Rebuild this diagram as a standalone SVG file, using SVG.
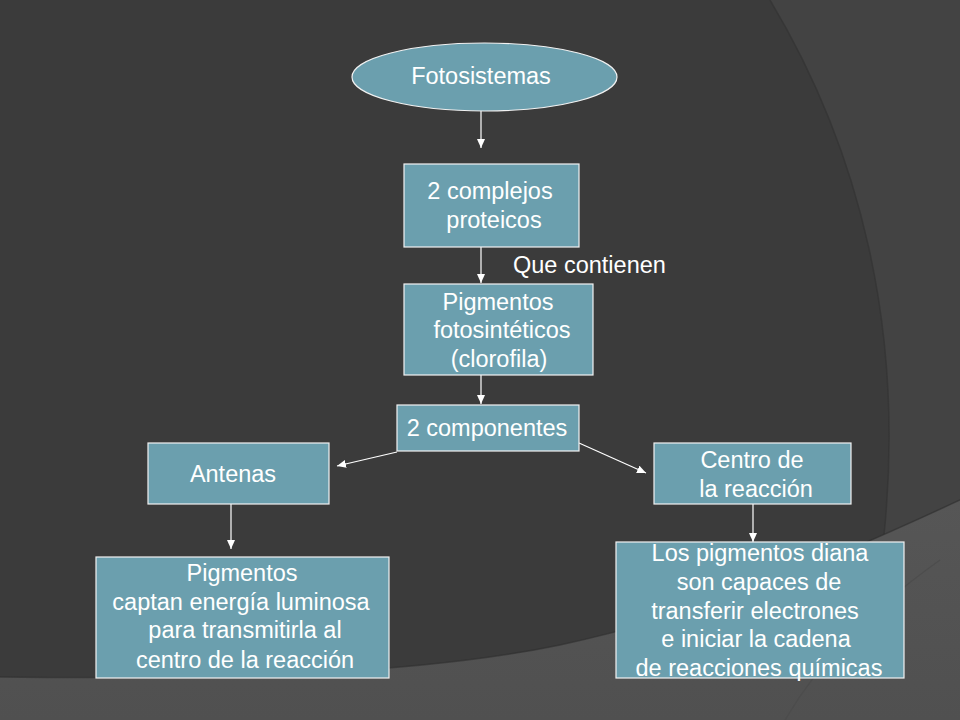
<svg xmlns="http://www.w3.org/2000/svg" width="960" height="720" viewBox="0 0 960 720">
  <defs>
    <style>
      .node { fill: #6b9fae; stroke: #f2f2f2; stroke-width: 1.2; }
      .lbl { font-family: "Liberation Sans", Arial, sans-serif; font-size: 23.5px; fill: #ffffff; text-anchor: middle; }
      .free { font-family: "Liberation Sans", Arial, sans-serif; font-size: 23.5px; fill: #ffffff; }
      .conn { stroke: #ffffff; stroke-width: 1.2; fill: none; marker-end: url(#arrow); }
    </style>
    <marker id="arrow" markerUnits="userSpaceOnUse" markerWidth="10" markerHeight="8" refX="9" refY="4" orient="auto">
      <path d="M0,0 L9,4 L0,8 Z" fill="#ffffff"/>
    </marker>
    <linearGradient id="bottomGrad" x1="0" y1="0" x2="0" y2="1">
      <stop offset="0" stop-color="#565656"/>
      <stop offset="1" stop-color="#505050"/>
    </linearGradient>
  </defs>

  <!-- background -->
  <g id="background">
    <rect x="0" y="0" width="960" height="720" fill="#3b3b3b"/>
    <path d="M770,0 L960,0 L960,500 L884,535 C905,330 860,150 770,0 Z" fill="#434343"/>
    <path d="M770,0 C860,150 905,330 884,535" fill="none" stroke="#333333" stroke-width="1.5" opacity="0.7"/>
    <path d="M0,677 C250,680 430,672 560,645 C700,615 820,565 960,500 L960,720 L0,720 Z" fill="url(#bottomGrad)"/>
    <path d="M0,677 C250,680 430,672 560,645 C700,615 820,565 960,500" fill="none" stroke="#2e2e2e" stroke-width="1.5" opacity="0.6"/>
    <path d="M785,720 C820,660 870,610 940,560" fill="none" stroke="#4a4a4a" stroke-width="1.2" opacity="0.7"/>
  </g>

  <!-- connectors -->
  <g id="connectors">
    <line class="conn" x1="481" y1="111" x2="481" y2="148"/>
    <line class="conn" x1="481" y1="247" x2="481" y2="283"/>
    <line class="conn" x1="481" y1="362" x2="481" y2="404"/>
    <line class="conn" x1="397" y1="452" x2="337" y2="466"/>
    <line class="conn" x1="579" y1="443" x2="646" y2="473"/>
    <line class="conn" x1="231" y1="504" x2="231" y2="549"/>
    <line class="conn" x1="753" y1="504" x2="753" y2="542"/>
  </g>

  <!-- nodes -->
  <g id="fotosistemas">
    <ellipse class="node" cx="484.5" cy="77" rx="132.5" ry="34"/>
    <text class="lbl" x="481" y="84">Fotosistemas</text>
  </g>

  <g id="complejos">
    <rect class="node" x="404" y="164" width="175" height="83"/>
    <text class="lbl" x="490" y="199">2 complejos</text>
    <text class="lbl" x="494" y="228">proteicos</text>
  </g>

  <g id="que-contienen">
    <text class="free" x="513" y="273">Que contienen</text>
  </g>

  <g id="pigmentos">
    <rect class="node" x="404" y="284" width="189" height="91"/>
    <text class="lbl" x="498" y="310">Pigmentos</text>
    <text class="lbl" x="502" y="338">fotosintéticos</text>
    <text class="lbl" x="499" y="367">(clorofila)</text>
  </g>

  <g id="componentes">
    <rect class="node" x="397" y="405" width="182" height="46"/>
    <text class="lbl" x="487" y="436">2 componentes</text>
  </g>

  <g id="antenas">
    <rect class="node" x="148" y="443" width="181" height="61"/>
    <text class="lbl" x="233" y="482">Antenas</text>
  </g>

  <g id="centro">
    <rect class="node" x="654" y="443" width="197" height="61"/>
    <text class="lbl" x="752" y="468">Centro de</text>
    <text class="lbl" x="756" y="497">la reacción</text>
  </g>

  <g id="pigmentos-antenas">
    <rect class="node" x="96" y="557" width="293" height="121"/>
    <text class="lbl" x="242" y="581">Pigmentos</text>
    <text class="lbl" x="241" y="610">captan energía luminosa</text>
    <text class="lbl" x="245" y="638">para transmitirla al</text>
    <text class="lbl" x="245" y="668">centro de la reacción</text>
  </g>

  <g id="pigmentos-diana">
    <rect class="node" x="616" y="542" width="288" height="136"/>
    <text class="lbl" x="760" y="561">Los pigmentos diana</text>
    <text class="lbl" x="759" y="590">son capaces de</text>
    <text class="lbl" x="755" y="619">transferir electrones</text>
    <text class="lbl" x="756" y="647">e iniciar la cadena</text>
    <text class="lbl" x="759" y="676">de reacciones químicas</text>
  </g>
</svg>
